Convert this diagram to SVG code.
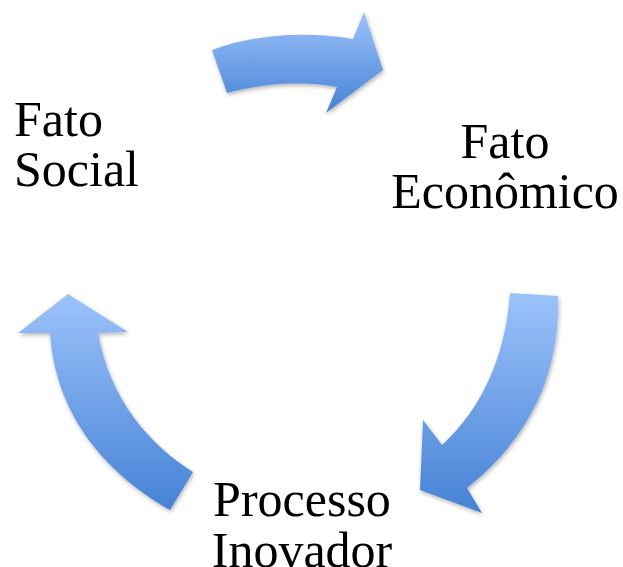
<svg xmlns="http://www.w3.org/2000/svg" width="623" height="567" viewBox="0 0 623 567">
  <style>
    .label { font-family: "Liberation Serif", "DejaVu Serif", serif; font-size: 50px; fill: #000; }
    .arrow { fill: url(#blueGrad); filter: url(#soft); }
  </style>
  <defs>
    <linearGradient id="blueGrad" x1="0" y1="0" x2="0" y2="1">
      <stop offset="0" stop-color="#9cc2fa"/>
      <stop offset="1" stop-color="#4682d5"/>
    </linearGradient>
    <filter id="soft" x="-10%" y="-10%" width="130%" height="130%">
      <feDropShadow dx="1" dy="2" stdDeviation="2" flood-color="#000" flood-opacity="0.3"/>
    </filter>
  </defs>
  <rect width="623" height="567" fill="#ffffff"/>

  <!-- cycle arrows -->
  <g id="connectors">
    <path class="arrow" d="M212,50 C250,36 300,30 353,39 L364,12 L383,70 L326,113 L337,87 C300,80 260,84 227,93 Z"/>
    <path class="arrow" d="M510,293 L558,296 C560,360 540,430 467,488 L482,513 L420,490 L423,420 L442,445 C480,410 505,360 510,293 Z"/>
    <path class="arrow" d="M68,294 L128,332 L98,333 C110,400 150,445 193,472 L170,510 C100,470 55,410 50,333 L18,333 Z"/>
  </g>

  <g id="fato-social">
    <text class="label" x="14" y="136">Fato</text>
    <text class="label" x="14" y="186">Social</text>
  </g>
  <g id="fato-economico">
    <text class="label" x="505" y="158" text-anchor="middle">Fato</text>
    <text class="label" x="505" y="208" text-anchor="middle">Econômico</text>
  </g>
  <g id="processo-inovador">
    <text class="label" x="302" y="516" text-anchor="middle">Processo</text>
    <text class="label" x="302" y="567" text-anchor="middle">Inovador</text>
  </g>
</svg>
